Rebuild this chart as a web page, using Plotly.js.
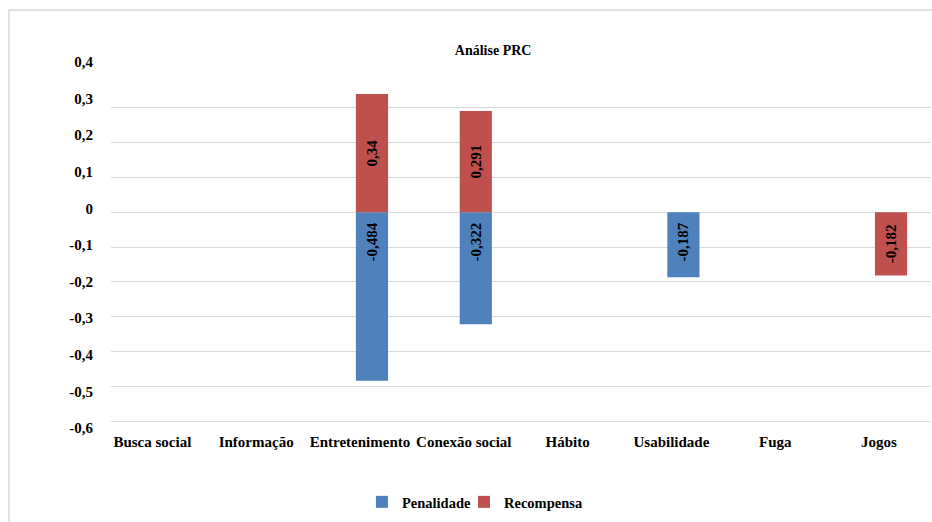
<!DOCTYPE html>
<html>
<head>
<meta charset="utf-8">
<script src="https://cdn.plot.ly/plotly-3.0.1.min.js"></script>
<style>html,body{margin:0;padding:0;background:#fff;}#chart{width:932px;height:522px;}</style>
</head>
<body>
<div id="chart"></div>
<script>
const categories = ['Busca social', 'Informação', 'Entretenimento', 'Conexão social', 'Hábito', 'Usabilidade', 'Fuga', 'Jogos'];
const penalidade = [null, null, -0.484, -0.322, null, -0.187, null, null];
const recompensa = [null, null, 0.34, 0.291, null, null, null, -0.182];
const yTickVals = [-0.6, -0.5, -0.4, -0.3, -0.2, -0.1, 0, 0.1, 0.2, 0.3, 0.4];
const yTickText = ['-0,6', '-0,5', '-0,4', '-0,3', '-0,2', '-0,1', '0', '0,1', '0,2', '0,3', '0,4'];

const fmt = v => (v === null ? '' : String(v).replace('.', ','));
const serif = 'Liberation Serif, Times New Roman, serif';

const traces = [
  {
    type: 'bar', name: 'Penalidade', x: categories, y: penalidade, legend: 'legend',
    text: penalidade.map(v => (v === null ? '' : fmt(v) + '\u00a0\u00a0')), texttemplate: '%{text}',
    textposition: 'inside', insidetextanchor: 'start', textangle: -90,
    textfont: {family: serif, size: 15, color: '#000', weight: 'bold'},
    marker: {color: '#4F81BD'}, width: 0.31, hoverinfo: 'x+y'
  },
  {
    type: 'bar', name: 'Recompensa', x: categories, y: recompensa, legend: 'legend2',
    text: recompensa.map(fmt), texttemplate: '%{text}',
    textposition: 'inside', insidetextanchor: 'middle', textangle: -90,
    textfont: {family: serif, size: 15, color: '#000', weight: 'bold'},
    marker: {color: '#C0504D'}, width: 0.31, hoverinfo: 'x+y'
  },
  {
    type: 'scatter', mode: 'markers', x: [categories[0]], y: [null], yaxis: 'y2',
    showlegend: false, hoverinfo: 'skip'
  }
];

const legendFont = {family: serif, size: 14.5, color: '#000', weight: 'bold'};

const layout = {
  width: 932, height: 522,
  margin: {l: 111, r: 1, t: 62, b: 94},
  paper_bgcolor: '#fff', plot_bgcolor: 'rgba(0,0,0,0)',
  separators: ',.',
  barmode: 'relative',
  showlegend: true,
  font: {family: serif, size: 15, color: '#000'},
  title: {
    text: 'Análise PRC', font: {family: serif, size: 14, color: '#000', weight: 'bold'},
    x: 0.466, xref: 'paper', xanchor: 'center', y: 0.904, yref: 'container', yanchor: 'middle'
  },
  xaxis: {
    type: 'category', range: [-0.514, 7.385], showgrid: false, zeroline: false,
    showline: true, linecolor: '#d9d9d9', linewidth: 1, ticks: '', ticklabelstandoff: 7, ticklabelshift: -12,
    tickfont: {family: serif, size: 15, color: '#000', weight: 'bold'}
  },
  yaxis: {
    domain: [7 / 366, 1 - 11 / 366], range: [-0.6, 0.4],
    tickvals: yTickVals, ticktext: yTickText, showticklabels: false,
    showgrid: true, gridcolor: '#d9d9d9', gridwidth: 1, zeroline: false, showline: false, ticks: ''
  },
  yaxis2: {
    domain: [0, 1], range: [-0.6, 0.4], anchor: 'free', position: 0,
    tickvals: yTickVals, ticktext: yTickText, showgrid: false, zeroline: false,
    showline: false, ticks: '', ticklabelstandoff: 18,
    tickfont: {family: serif, size: 15, color: '#000', weight: 'bold'}
  },
  legend: {
    orientation: 'h', x: 0.306, xanchor: 'left', y: -0.202, yanchor: 'middle', itemwidth: 30,
    font: legendFont, bgcolor: 'rgba(0,0,0,0)'
  },
  legend2: {
    orientation: 'h', x: 0.4305, xanchor: 'left', y: -0.202, yanchor: 'middle', itemwidth: 30,
    font: legendFont, bgcolor: 'rgba(0,0,0,0)'
  },
  shapes: [{
    type: 'rect', xref: 'paper', yref: 'paper',
    x0: -0.1244, x1: 1.05, y0: -0.3, y1: 1.1421,
    line: {color: '#d9d9d9', width: 1.5}, fillcolor: 'rgba(0,0,0,0)', layer: 'below'
  }]
};

Plotly.newPlot('chart', traces, layout, {displayModeBar: false, staticPlot: true});
</script>
</body>
</html>
